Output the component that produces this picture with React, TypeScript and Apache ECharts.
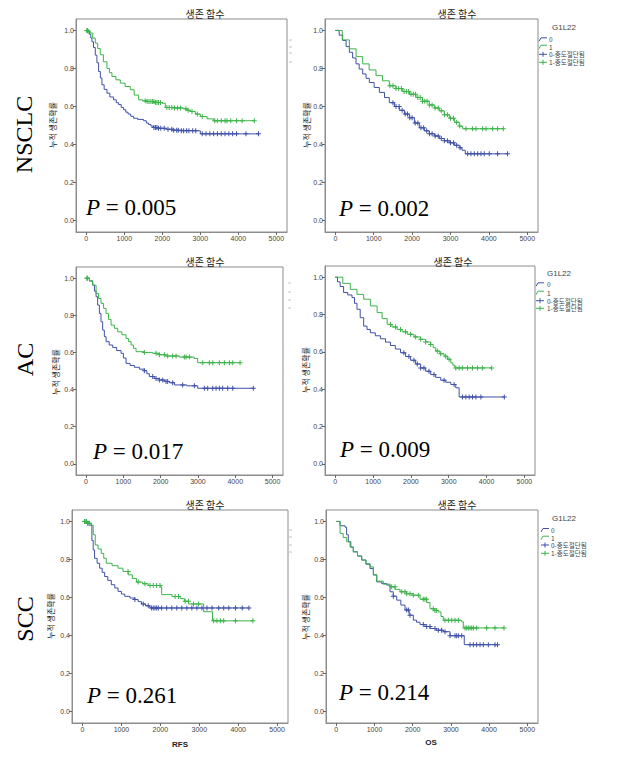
import React, { useEffect, useRef } from 'react';
import * as echarts from 'echarts';

type Pt = [number, number];

// ---------------- data ----------------
const xTicks = [0, 1000, 2000, 3000, 4000, 5000];
const yTicks = [0, 0.2, 0.4, 0.6, 0.8, 1.0];
const rowLabels = ['NSCLC', 'AC', 'SCC'];
const pValues = ['0.005', '0.002', '0.017', '0.009', '0.261', '0.214'];
const chartTitle = '생존 함수';
const yAxisTitle = '누적 생존확률';
const xAxisTitles = ['RFS', 'OS'];
const legendTitle = 'G1L22';
const legendLabels = ['0', '1', '0-중도절단됨', '1-중도절단됨'];

// NSCLC RFS
const nsclcRfs0: Pt[] = [[0,1],[80,0.98],[120,0.96],[150,0.94],[190,0.91],[237,0.87],[280,0.83],[325,0.784],[370,0.75],[412,0.714],[470,0.69],[544,0.67],[620,0.65],[719,0.635],[790,0.62],[850,0.61],[920,0.595],[982,0.583],[1040,0.57],[1100,0.56],[1170,0.548],[1245,0.538],[1350,0.532],[1508,0.525],[1580,0.513],[1640,0.505],[1700,0.497],[1771,0.489],[1900,0.485],[2100,0.48],[2300,0.475],[2474,0.472],[3000,0.456],[4530,0.456]];
const nsclcRfs1: Pt[] = [[0,1],[50,0.995],[105,0.986],[170,0.96],[237,0.933],[300,0.905],[368,0.872],[450,0.835],[544,0.8],[610,0.778],[675,0.758],[780,0.74],[895,0.723],[1020,0.705],[1158,0.688],[1260,0.66],[1377,0.635],[1480,0.63],[1596,0.626],[1800,0.621],[1991,0.617],[2079,0.595],[2300,0.592],[2561,0.588],[2650,0.58],[2737,0.574],[2870,0.56],[3000,0.547],[3180,0.535],[3350,0.525],[4420,0.525]];
const nsclcRfsCens0 = [1780,1820,1860,1900,1960,2050,2150,2250,2300,2380,2420,2500,2560,2640,2700,2800,2880,3050,3150,3250,3350,3450,3550,3650,3750,3850,3950,4200,4530];
const nsclcRfsCens1 = [15,30,50,1550,1600,1650,1700,1740,1780,1820,1860,1900,1950,2120,2180,2250,2320,2400,2480,2620,2680,2780,2920,3050,3380,3450,3550,3650,3700,3800,3950,4100,4420];

// NSCLC OS
const nsclcOs0: Pt[] = [[0,1],[100,0.975],[191,0.947],[280,0.915],[365,0.885],[450,0.855],[538,0.824],[620,0.797],[712,0.771],[800,0.748],[885,0.726],[1010,0.7],[1146,0.674],[1280,0.647],[1406,0.62],[1540,0.6],[1667,0.58],[1800,0.56],[1927,0.541],[2060,0.513],[2188,0.488],[2320,0.472],[2448,0.457],[2580,0.445],[2708,0.432],[2840,0.42],[2969,0.409],[3100,0.396],[3229,0.383],[3300,0.37],[3385,0.351],[4488,0.351]];
const nsclcOs1: Pt[] = [[0,1],[180,0.95],[365,0.903],[540,0.862],[712,0.824],[880,0.792],[1059,0.762],[1230,0.735],[1406,0.709],[1580,0.694],[1753,0.679],[1930,0.664],[2101,0.647],[2270,0.628],[2448,0.608],[2580,0.592],[2708,0.577],[2840,0.557],[2969,0.538],[3100,0.517],[3229,0.497],[3316,0.483],[4375,0.483]];
const nsclcOsCens0 = [1500,1580,1660,1740,1820,1880,1940,2000,2080,2150,2230,2300,2380,2450,2520,2600,2680,2760,2840,2920,3000,3080,3160,3250,3446,3533,3620,3707,3793,3880,4010,4227,4488];
const nsclcOsCens1 = [1420,1500,1580,1650,1720,1790,1850,1910,1970,2030,2090,2150,2210,2270,2330,2390,2450,2520,2600,2680,2760,2840,2920,3000,3080,3160,3240,3403,3576,3663,3837,3924,4097,4227,4375];

// AC RFS
const acRfs0: Pt[] = [[0,1],[90,0.985],[177,0.962],[225,0.93],[268,0.9],[310,0.855],[357,0.81],[400,0.765],[445,0.72],[490,0.685],[536,0.658],[620,0.64],[713,0.627],[820,0.61],[938,0.595],[1000,0.57],[1072,0.541],[1180,0.53],[1295,0.52],[1430,0.51],[1563,0.502],[1630,0.485],[1697,0.47],[1830,0.46],[1965,0.452],[2100,0.444],[2233,0.437],[2367,0.425],[2700,0.42],[2992,0.407],[4485,0.407]];
const acRfs1: Pt[] = [[0,1],[90,0.985],[177,0.962],[268,0.917],[335,0.89],[402,0.864],[470,0.837],[536,0.81],[600,0.778],[670,0.747],[760,0.73],[848,0.711],[960,0.695],[1072,0.675],[1140,0.658],[1206,0.64],[1270,0.622],[1340,0.604],[1550,0.6],[1787,0.595],[1960,0.588],[2136,0.581],[2500,0.575],[2895,0.568],[2992,0.545],[4129,0.545]];
const acRfsCens0 = [1563,1787,1876,1965,2055,2144,2188,2322,2590,2903,3172,3261,3396,3485,3574,3663,3797,3932,4485];
const acRfsCens1 = [20,40,1563,1876,1965,2099,2188,2322,2412,2635,2680,2770,3127,3306,3396,3574,3708,3842,3932,4129];

// AC OS
const acOs0: Pt[] = [[0,1],[60,0.975],[130,0.95],[221,0.918],[330,0.905],[443,0.891],[510,0.86],[576,0.828],[660,0.783],[752,0.738],[840,0.72],[929,0.702],[1060,0.686],[1195,0.67],[1330,0.652],[1460,0.634],[1590,0.615],[1726,0.595],[1860,0.575],[1992,0.555],[2125,0.535],[2257,0.514],[2390,0.496],[2523,0.478],[2655,0.463],[2788,0.448],[2920,0.437],[3054,0.425],[3186,0.407],[3275,0.358],[4469,0.358]];
const acOs1: Pt[] = [[0,1],[200,0.967],[398,0.935],[575,0.908],[752,0.882],[930,0.846],[1107,0.81],[1240,0.778],[1373,0.747],[1500,0.733],[1638,0.72],[1770,0.707],[1904,0.694],[2080,0.68],[2257,0.667],[2390,0.653],[2523,0.64],[2590,0.622],[2655,0.604],[2766,0.59],[2877,0.577],[2965,0.56],[3054,0.541],[3110,0.528],[3160,0.514],[4134,0.514]];
const acOsCens0 = [1814,1947,2080,2169,2257,2345,2478,2611,2876,3142,3363,3452,3540,3629,3717,3850,4469];
const acOsCens1 = [1460,1593,1726,1859,1992,2125,2257,2390,2523,2700,2788,2921,3010,3186,3275,3363,3496,3629,3762,3895,4134];

// SCC RFS
const sccRfs0: Pt[] = [[0,1],[100,0.99],[181,0.98],[241,0.9],[275,0.85],[310,0.806],[375,0.78],[440,0.754],[505,0.732],[569,0.71],[650,0.69],[740,0.667],[830,0.65],[913,0.632],[1000,0.618],[1086,0.606],[1220,0.597],[1345,0.589],[1430,0.578],[1515,0.566],[1620,0.556],[1733,0.545],[4275,0.545]];
const sccRfs1: Pt[] = [[0,1],[120,0.99],[224,0.98],[275,0.93],[327,0.876],[400,0.855],[482,0.832],[545,0.806],[611,0.78],[760,0.767],[913,0.754],[1040,0.737],[1172,0.719],[1280,0.7],[1386,0.681],[1540,0.672],[1689,0.663],[2000,0.656],[2033,0.615],[2300,0.605],[2509,0.594],[2620,0.58],[2724,0.566],[3112,0.525],[3340,0.477],[4378,0.477]];
const sccRfsCens0 = [52,95,138,1345,1560,1689,1775,1818,1862,1905,1948,2034,2163,2293,2422,2551,2681,2810,2939,3068,3198,3327,3499,3628,3758,3930,4103,4275];
const sccRfsCens1 = [52,95,138,181,1171,1430,1603,1733,1818,1905,1991,2379,2465,2638,2723,2852,2982,3370,3455,3543,3628,3930,4378];

// SCC OS
const sccOs0: Pt[] = [[0,1],[97,0.977],[228,0.97],[270,0.93],[314,0.893],[380,0.865],[445,0.84],[555,0.818],[665,0.797],[775,0.775],[882,0.752],[970,0.718],[1058,0.682],[1190,0.673],[1319,0.665],[1406,0.63],[1490,0.607],[1581,0.586],[1690,0.56],[1798,0.534],[1907,0.507],[2016,0.481],[2100,0.47],[2191,0.458],[2320,0.447],[2453,0.437],[2620,0.428],[2801,0.42],[2977,0.399],[3350,0.352],[4220,0.352]];
const sccOs1: Pt[] = [[0,1],[97,0.937],[180,0.915],[272,0.893],[360,0.865],[445,0.84],[555,0.818],[665,0.797],[775,0.778],[882,0.761],[970,0.72],[1058,0.686],[1230,0.67],[1406,0.656],[1540,0.643],[1667,0.63],[1840,0.62],[2016,0.612],[2191,0.591],[2366,0.573],[2453,0.541],[2560,0.532],[2670,0.524],[2740,0.5],[2801,0.48],[3282,0.472],[3325,0.44],[4390,0.44]];
const sccOsCens0 = [1493,1843,1887,1929,2277,2365,2452,2583,2670,2757,2846,2977,3108,3151,3195,3283,3500,3587,3674,3762,3849,3980,4154,4220];
const sccOsCens1 = [1450,1537,1712,1798,1843,1929,2016,2147,2277,2321,2365,2539,2583,2626,2846,2934,3021,3108,3195,3369,3413,3456,3500,3544,3587,3674,3936,4154,4390];

const panelData = [
  { s0: nsclcRfs0, s1: nsclcRfs1, c0: nsclcRfsCens0, c1: nsclcRfsCens1 },
  { s0: nsclcOs0, s1: nsclcOs1, c0: nsclcOsCens0, c1: nsclcOsCens1 },
  { s0: acRfs0, s1: acRfs1, c0: acRfsCens0, c1: acRfsCens1 },
  { s0: acOs0, s1: acOs1, c0: acOsCens0, c1: acOsCens1 },
  { s0: sccRfs0, s1: sccRfs1, c0: sccRfsCens0, c1: sccRfsCens1 },
  { s0: sccOs0, s1: sccOs1, c0: sccOsCens0, c1: sccOsCens1 },
];

// ---------------- layout / style ----------------
const X_MIN = -270;
const X_MAX = 5280;
const Y_MIN = -0.06;
const Y_MAX = 1.06;
const BLUE = '#3F51A8';
const GREEN = '#3CB44A';
const BOX = '#8c8c8c';
const LABEL = '#444';
const SANS = '"Liberation Sans", Arial, sans-serif';
const KR = '"Noto Sans CJK KR", sans-serif';
const SERIF = '"Liberation Serif", "Times New Roman", serif';
const PLUS = 'path://M2,0H3V2H5V3H3V5H2V3H0V2H2Z';

const boxes = [
  { left: 76, top: 19, width: 211, height: 213 },
  { left: 325, top: 19, width: 213, height: 213 },
  { left: 76, top: 267, width: 207, height: 208 },
  { left: 325, top: 266, width: 210, height: 209 },
  { left: 72, top: 510, width: 216, height: 213 },
  { left: 326, top: 510, width: 212, height: 213 },
];
const titleXY = [[205, 13], [457, 13], [205, 261], [453, 261], [205, 504], [457, 504]];
const pXY = [[86, 207.5], [339, 208], [93, 451], [340, 449], [87, 695.5], [339, 692.5]];
const yLabelXY = [[52, 125], [306, 125], [55, 372], [305, 370], [50, 616], [305, 617]];
const rowXY = [[23.5, 134.5], [25, 359.5], [25, 619]];
const xNameXY = [[180, 744], [431, 742]];
const legendPos = [
  { tx: 552, ty: 27.7, ix: 539, lx: 549, ys: [39.3, 46.7, 54.3, 62.3] },
  { tx: 547, ty: 273.3, ix: 536, lx: 547, ys: [284.3, 292.7, 300.7, 308.3] },
  { tx: 552, ty: 518.3, ix: 541, lx: 551, ys: [530, 537.7, 545, 553.3] },
];
const remnants = [
  { x: 289, ys: [40, 47, 53, 62] },
  { x: 288, ys: [283, 292, 300, 308] },
  { x: 289, ys: [530, 537, 545, 552] },
];

function stepAt(curve: Pt[], t: number): number {
  let s = curve[0][1];
  for (const [ct, cs] of curve) {
    if (ct <= t) s = cs;
    else break;
  }
  return s;
}

function txt(x: number, y: number, text: string, fontSize: number, fontFamily: string, opts: any = {}) {
  const align = opts.align || 'center';
  const vAlign = opts.verticalAlign || 'middle';
  const style: any = {
    text,
    fontSize,
    fontFamily,
    fontWeight: opts.fontWeight || 'normal',
    fontStyle: opts.fontStyle || 'normal',
    fill: opts.fill || '#222',
    align,
    textAlign: align,
    verticalAlign: vAlign,
    textVerticalAlign: vAlign,
    lineHeight: opts.lineHeight || Math.ceil(fontSize * 1.15),
  };
  if (opts.rich) style.rich = opts.rich;
  return {
    type: 'text',
    x,
    y,
    rotation: opts.rotation || 0,
    silent: true,
    z: 10,
    style,
  };
}

function buildOption() {
  const grid: any[] = [];
  const xAxis: any[] = [];
  const yAxis: any[] = [];
  const series: any[] = [];
  const graphic: any[] = [];

  panelData.forEach((p, i) => {
    grid.push({ ...boxes[i], show: true, borderColor: BOX, borderWidth: 1, backgroundColor: '#fff', containLabel: false });
    xAxis.push({
      type: 'value', gridIndex: i, min: X_MIN, max: X_MAX, position: 'bottom',
      axisLine: { show: true, onZero: false, lineStyle: { color: BOX, width: 1 } },
      axisTick: { show: true, inside: false, length: 3, customValues: xTicks, lineStyle: { color: '#666' } },
      axisLabel: { show: true, customValues: xTicks, fontSize: 7, color: LABEL, margin: 3, fontFamily: SANS, formatter: (v: number) => String(v) },
      splitLine: { show: false },
    });
    yAxis.push({
      type: 'value', gridIndex: i, min: Y_MIN, max: Y_MAX, position: 'left',
      axisLine: { show: true, onZero: false, lineStyle: { color: BOX, width: 1 } },
      axisTick: { show: true, inside: false, length: 3, customValues: yTicks, lineStyle: { color: '#666' } },
      axisLabel: { show: true, customValues: yTicks, fontSize: 7, color: LABEL, margin: 2, fontFamily: SANS, formatter: (v: number) => v.toFixed(1) },
      splitLine: { show: false },
    });
    const groups = [
      { curve: p.s0, cens: p.c0, color: BLUE, name: legendLabels[0] },
      { curve: p.s1, cens: p.c1, color: GREEN, name: legendLabels[1] },
    ];
    groups.forEach((g) => {
      series.push({
        type: 'line', name: g.name, xAxisIndex: i, yAxisIndex: i, data: g.curve, step: 'end',
        symbol: 'none', silent: true, z: 2, lineStyle: { color: g.color, width: 1 }, itemStyle: { color: g.color },
      });
    });
    groups.forEach((g, k) => {
      series.push({
        type: 'scatter', name: legendLabels[2 + k], xAxisIndex: i, yAxisIndex: i,
        data: g.cens.map((t) => [t, stepAt(g.curve, t)]),
        symbol: PLUS, symbolSize: 5, silent: true, z: 3,
        itemStyle: { color: g.color, opacity: 1 },
      });
    });

    graphic.push(txt(titleXY[i][0], titleXY[i][1], chartTitle, 10, KR, { fill: '#222', lineHeight: 11 }));
    graphic.push(txt(yLabelXY[i][0], yLabelXY[i][1], yAxisTitle, 8, KR, { rotation: Math.PI / 2, fill: '#222', lineHeight: 9 }));
    graphic.push(txt(pXY[i][0], pXY[i][1], `{i|P} = ${pValues[i]}`, 23, SERIF, {
      align: 'left', fill: '#000', lineHeight: 24,
      rich: { i: { fontStyle: 'italic', fontSize: 23, fontFamily: SERIF, fill: '#000', lineHeight: 24 } },
    }));
  });

  rowLabels.forEach((r, k) => {
    graphic.push(txt(rowXY[k][0], rowXY[k][1], r, 24, SERIF, { rotation: Math.PI / 2, fill: '#000', lineHeight: 26 }));
  });

  xAxisTitles.forEach((n, k) => {
    graphic.push(txt(xNameXY[k][0], xNameXY[k][1], n, 8, SANS, { fontWeight: 'bold', fill: '#222', lineHeight: 9 }));
  });

  legendPos.forEach((L) => {
    graphic.push(txt(L.tx, L.ty, legendTitle, 8, SANS, { align: 'left', fill: '#444', lineHeight: 9 }));
    legendLabels.forEach((lab, k) => {
      const y = L.ys[k];
      const color = k % 2 === 0 ? BLUE : GREEN;
      if (k < 2) {
        graphic.push({
          type: 'polyline', silent: true, z: 10,
          shape: { points: [[L.ix, y + 2], [L.ix + 2, y - 1.5], [L.ix + 8, y - 1.5]] },
          style: { stroke: color, lineWidth: 1, fill: 'none' },
        });
      } else {
        graphic.push({
          type: 'line', silent: true, z: 10,
          shape: { x1: L.ix, y1: y, x2: L.ix + 8, y2: y },
          style: { stroke: color, lineWidth: 1 },
        });
        graphic.push({
          type: 'line', silent: true, z: 10,
          shape: { x1: L.ix + 4, y1: y - 2.5, x2: L.ix + 4, y2: y + 2.5 },
          style: { stroke: color, lineWidth: 1 },
        });
      }
      graphic.push(txt(L.lx, y, lab, 6.5, KR, { align: 'left', fill: '#444', lineHeight: 7 }));
    });
  });

  remnants.forEach((R) => {
    R.ys.forEach((y) => {
      graphic.push({
        type: 'line', silent: true, z: 10,
        shape: { x1: R.x, y1: y, x2: R.x + 3, y2: y },
        style: { stroke: '#c4c4c4', lineWidth: 1 },
      });
    });
  });

  return {
    animation: false,
    backgroundColor: '#fff',
    tooltip: { show: false },
    grid,
    xAxis,
    yAxis,
    series,
    graphic,
  };
}

export default function App() {
  const ref = useRef<HTMLDivElement>(null);
  useEffect(() => {
    if (!ref.current) return;
    const chart = echarts.init(ref.current, null, { renderer: 'svg' });
    chart.setOption(buildOption() as any);
    return () => chart.dispose();
  }, []);
  return (
    <div
      ref={ref}
      style={{ position: 'absolute', left: 0, top: 0, width: 622, height: 757, background: '#fff' }}
    />
  );
}
